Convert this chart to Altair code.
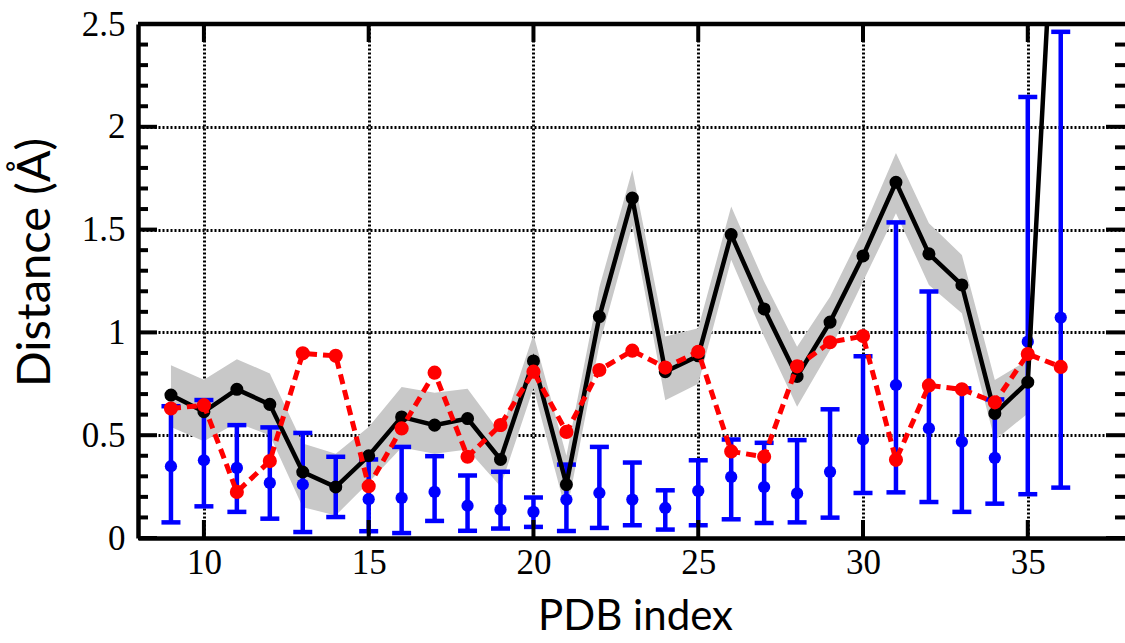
import altair as alt
import pandas as pd

# PDB index of each structure
pdb_index = list(range(9, 37))

# Mean distance (black) with its shaded spread
mean_dist = [0.695, 0.614, 0.723, 0.650, 0.321, 0.248, 0.400, 0.589, 0.549, 0.581,
             0.382, 0.861, 0.260, 1.077, 1.653, 0.809, 0.886, 1.476, 1.114, 0.786,
             1.050, 1.372, 1.730, 1.382, 1.231, 0.606, 0.758, 3.750]
band_upper = [0.84, 0.77, 0.87, 0.80, 0.46, 0.41, 0.54, 0.735, 0.707, 0.726,
              0.51, 0.99, 0.40, 1.22, 1.79, 0.98, 1.02, 1.612, 1.247, 0.93,
              1.174, 1.499, 1.872, 1.531, 1.377, 0.768, 0.866, 3.90]
band_lower = [0.54, 0.47, 0.56, 0.50, 0.15, 0.11, 0.27, 0.44, 0.41, 0.43,
              0.25, 0.73, 0.12, 0.94, 1.52, 0.67, 0.75, 1.353, 0.979, 0.638,
              0.914, 1.247, 1.58, 1.231, 1.093, 0.476, 0.606, 3.60]

# Second distance series (red, dashed)
red_dist = [0.630, 0.646, 0.224, 0.374, 0.898, 0.886, 0.252, 0.533, 0.804, 0.395,
            0.549, 0.809, 0.516, 0.817, 0.911, 0.829, 0.906, 0.421, 0.395, 0.835,
            0.952, 0.982, 0.380, 0.742, 0.723, 0.660, 0.895, 0.832]

# Blue points with asymmetric error bars
blue_mid = [0.349, 0.378, 0.341, 0.268, 0.260, 0.250, 0.189, 0.195, 0.224, 0.157,
            0.138, 0.127, 0.187, 0.219, 0.187, 0.146, 0.229, 0.297, 0.248, 0.217,
            0.322, 0.479, 0.744, 0.533, 0.468, 0.390, 0.955, 1.072]
blue_hi = [0.641, 0.671, 0.549, 0.538, 0.511, 0.395, 0.382, 0.443, 0.398, 0.304,
           0.322, 0.197, 0.357, 0.443, 0.367, 0.232, 0.378, 0.479, 0.463, 0.476,
           0.626, 0.884, 1.535, 1.199, 0.728, 0.674, 2.145, 2.462]
blue_lo = [0.076, 0.154, 0.127, 0.094, 0.029, 0.102, 0.033, 0.024, 0.083, 0.035,
           0.046, 0.054, 0.034, 0.049, 0.062, 0.041, 0.062, 0.091, 0.073, 0.076,
           0.099, 0.219, 0.222, 0.175, 0.127, 0.167, 0.213, 0.245]

# Axis tick positions
x_major = [10, 15, 20, 25, 30, 35]
y_major = [0, 0.5, 1, 1.5, 2, 2.5]
y_minor = [round(i * 0.1, 1) for i in range(26) if i % 5 != 0]

W, H = 987, 514
FRAME = 4.5

df = pd.DataFrame({
    "n": pdb_index, "mean": mean_dist, "up": band_upper, "low": band_lower,
    "red": red_dist, "bmid": blue_mid, "bhi": blue_hi, "blo": blue_lo,
})

xs = alt.Scale(domain=[8, 37.95], nice=False, zero=False)
ys = alt.Scale(domain=[0, 2.5], nice=False, zero=False)

grid_style = dict(grid=True, gridColor="black", gridDash=[2, 2], gridWidth=3,
                  gridOpacity=1)
label_style = dict(labelFont="Liberation Serif", labelFontSize=35,
                   labelColor="black", labelFlush=False)

x_axis = alt.Axis(
    values=x_major, ticks=False, domain=True, domainColor="black",
    domainWidth=FRAME, labelPadding=7, **grid_style, **label_style,
    title="PDB index", titleFont="Lato", titleFontSize=42,
    titleFontWeight="normal", titleColor="black", titleX=497, titleY=78,
    titleBaseline="middle",
)
y_axis = alt.Axis(
    values=y_major, format="~g", ticks=False, domain=True, domainColor="black",
    domainWidth=FRAME, labelPadding=13, **grid_style, **label_style,
    title="Distance (Å)", titleFont="Lato", titleFontSize=47,
    titleFontWeight="normal", titleColor="black", titleX=-103, titleY=238,
    titleBaseline="middle",
)

base = alt.Chart(df)
X = alt.X("n:Q", scale=xs, axis=x_axis)


def Yf(field):
    return alt.Y(f"{field}:Q", scale=ys, axis=y_axis)


BLUE = "#0000ff"
RED = "#ff0000"

band = base.mark_area(color="#c8c8c8", opacity=1, clip=True).encode(
    x=X, y=Yf("low"), y2="up:Q")

blue_bar = base.mark_rule(color=BLUE, strokeWidth=4.5, clip=True).encode(
    x=X, y=Yf("blo"), y2="bhi:Q")
blue_cap_hi = base.mark_tick(color=BLUE, orient="horizontal", size=19,
                             thickness=4.5, opacity=1, clip=True).encode(
    x=X, y=Yf("bhi"))
blue_cap_lo = base.mark_tick(color=BLUE, orient="horizontal", size=19,
                             thickness=4.5, opacity=1, clip=True).encode(
    x=X, y=Yf("blo"))
blue_pts = base.mark_circle(color=BLUE, size=150, opacity=1, clip=True).encode(
    x=X, y=Yf("bmid"))

black_line = base.mark_line(color="black", strokeWidth=4.5, clip=True).encode(
    x=X, y=Yf("mean"))
black_pts = base.mark_circle(color="black", size=170, opacity=1, clip=True).encode(
    x=X, y=Yf("mean"))

red_line = base.mark_line(color=RED, strokeWidth=5, strokeDash=[10, 6],
                          clip=True).encode(x=X, y=Yf("red"))
red_pts = base.mark_circle(color=RED, size=200, opacity=1, clip=True).encode(
    x=X, y=Yf("red"))

data_layers = alt.layer(
    band, blue_bar, blue_cap_hi, blue_cap_lo, blue_pts,
    black_line, black_pts, red_line, red_pts,
)

# Frame along the top edge
top_frame = alt.Chart(pd.DataFrame({"k": [0]})).mark_rule(
    color="black", strokeWidth=FRAME).encode(
    x=alt.value(0), x2=alt.value(W), y=alt.value(0))

# Inward ticks on all four sides
ymaj_df = pd.DataFrame({"v": y_major})
ymin_df = pd.DataFrame({"v": y_minor})
xmaj_df = pd.DataFrame({"v": x_major})
YV = alt.Y("v:Q", scale=ys, axis=y_axis)
XV = alt.X("v:Q", scale=xs, axis=x_axis)

tick_style = dict(color="black", strokeWidth=4)
left_major = alt.Chart(ymaj_df).mark_rule(**tick_style).encode(
    y=YV, x=alt.value(0), x2=alt.value(19))
left_minor = alt.Chart(ymin_df).mark_rule(**tick_style).encode(
    y=YV, x=alt.value(0), x2=alt.value(10))
right_major = alt.Chart(ymaj_df).mark_rule(**tick_style).encode(
    y=YV, x=alt.value(W - 19), x2=alt.value(W))
right_minor = alt.Chart(ymin_df).mark_rule(**tick_style).encode(
    y=YV, x=alt.value(W - 10), x2=alt.value(W))
top_ticks = alt.Chart(xmaj_df).mark_rule(**tick_style).encode(
    x=XV, y=alt.value(0), y2=alt.value(18))
bottom_ticks = alt.Chart(xmaj_df).mark_rule(**tick_style).encode(
    x=XV, y=alt.value(H - 18), y2=alt.value(H))

chart = alt.layer(
    data_layers,
    top_frame, left_major, left_minor, right_major, right_minor,
    top_ticks, bottom_ticks,
).properties(
    width=W, height=H,
    autosize=alt.AutoSizeParams(type="none"),
    padding={"left": 138, "top": 24, "right": 0, "bottom": 105},
    background="white",
).configure_view(strokeWidth=0)

chart.save("out.html", embed_options={"renderer": "svg", "actions": False})
